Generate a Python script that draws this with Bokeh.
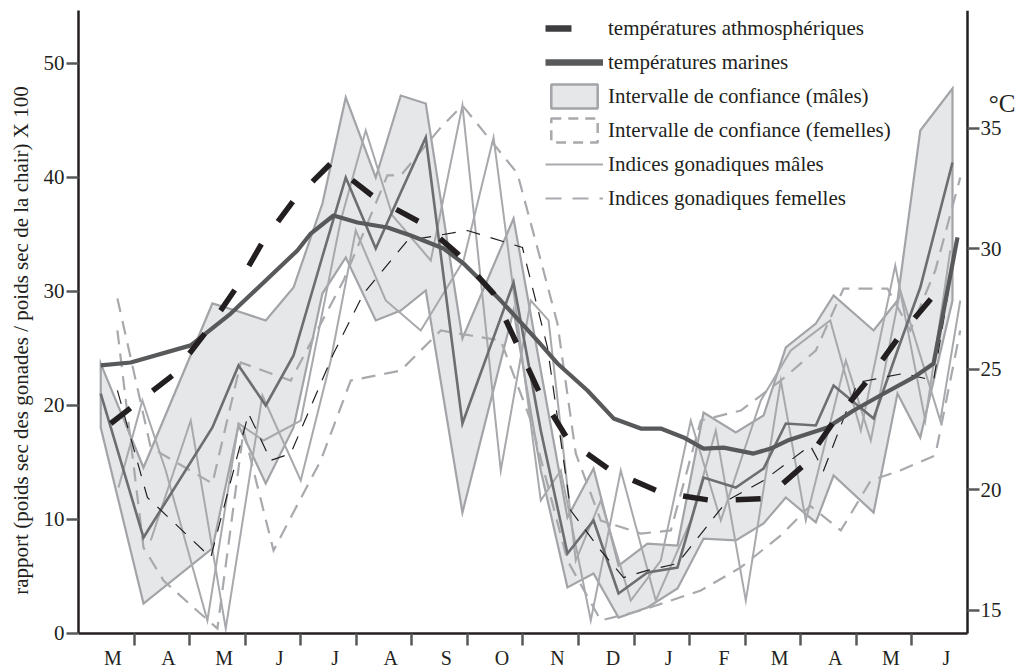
from bokeh.plotting import figure
from bokeh.models import (Range1d, LinearAxis, FixedTicker, CustomJSTickFormatter,
                          Legend, LegendItem)
from bokeh.embed import file_html
from bokeh.resources import INLINE

# ---------------- data ----------------
months = ["M", "A", "M", "J", "J", "A", "S", "O", "N", "D", "J", "F", "M", "A", "M", "J"]

# males : confidence interval and mean (rapport x 100), x in months from start
male_x = [0.40, 1.17, 2.41, 2.88, 3.37, 3.87, 4.39, 4.81, 5.35, 5.80, 6.25, 6.91, 7.83, 8.32,
          8.80, 9.27, 9.72, 10.24, 10.78, 11.25, 11.83, 12.33, 12.73, 13.27, 13.59, 14.31,
          14.74, 15.15, 15.73]
male_upper = [23.68, 14.56, 28.95, 28.25, 27.46, 30.35, 37.72, 47.02, 40.0, 47.19, 46.49, 25.88,
              36.40, 23.07, 10.18, 14.47, 5.96, 7.89, 7.72, 19.39, 17.63, 19.12, 25.09, 27.19,
              29.65, 26.58, 29.21, 44.12, 47.81]
male_mean = [21.05, 8.42, 18.07, 23.51, 20.0, 24.39, 33.07, 40.0, 33.77, 38.68, 43.51, 18.42,
             30.79, 17.81, 7.02, 9.91, 3.51, 5.35, 5.79, 13.68, 12.81, 14.47, 18.42, 18.25,
             21.75, 18.86, 24.82, 30.35, 41.32]
male_lower = [18.07, 2.63, 7.46, 18.25, 13.16, 18.07, 29.82, 32.98, 27.46, 28.33, 30.09, 10.61,
              28.33, 14.30, 4.04, 5.26, 1.40, 2.28, 3.95, 8.33, 8.16, 9.65, 11.93, 9.74,
              13.86, 10.61, 21.05, 17.19, 29.21]

# females : dashed interval limits and thin mean line
fem_up_x = [0.70, 1.30, 2.41, 2.92, 3.82, 4.77, 5.56, 5.80, 6.52, 6.91, 7.90, 8.32, 8.62, 8.95,
            9.40, 10.12, 10.66, 11.20, 11.92, 12.64, 13.27, 13.77, 14.56, 14.97, 15.42, 15.87]
fem_up_y = [29.39, 16.32, 13.16, 23.77, 22.19, 30.96, 40.18, 40.18, 44.39, 46.32, 40.35, 32.72,
            27.19, 15.79, 9.91, 8.77, 9.04, 18.68, 19.56, 22.19, 24.82, 30.26, 30.26, 26.58,
            31.84, 40.0]
fem_lo_x = [0.70, 1.17, 1.53, 2.07, 2.50, 2.97, 3.51, 3.82, 4.36, 4.90, 5.80, 6.52, 7.06, 7.60,
            8.14, 8.80, 9.40, 10.12, 10.66, 11.20, 11.92, 12.64, 13.17, 13.72, 14.26, 14.79,
            15.42, 15.87]
fem_lo_y = [26.58, 7.54, 4.65, 2.28, 0.44, 17.81, 7.28, 10.18, 15.18, 22.19, 23.07, 26.58, 26.14,
            25.70, 18.68, 6.40, 1.14, 2.02, 2.89, 3.77, 5.80, 8.60, 11.20, 9.04, 13.42, 14.30,
            15.61, 26.58]
fem_mean_x = [0.70, 1.24, 2.38, 3.06, 3.46, 3.82, 4.59, 5.13, 5.92, 7.00, 7.99, 8.44, 8.86, 9.40,
              9.81, 10.24, 10.78, 11.68, 12.33, 13.17, 13.41, 14.02, 14.85, 15.39, 15.82]
fem_mean_y = [21.32, 11.93, 6.67, 19.30, 15.18, 15.79, 24.56, 29.82, 34.47, 35.35, 33.86, 25.09,
              10.79, 7.28, 4.91, 5.53, 6.14, 11.67, 13.42, 16.49, 14.30, 22.02, 22.81, 22.19, 34.91]

# individual male gonadic indices (thin light lines)
ind_a_x = [0.72, 1.15, 1.57, 2.32, 2.88, 3.33, 4.00, 4.72, 5.17, 5.65, 6.34, 6.91, 7.60, 8.14,
           8.46, 8.95, 9.40, 9.94, 10.48, 11.02, 11.56, 12.28, 12.82, 13.53, 14.08, 14.70,
           15.24, 15.69]
ind_a_y = [12.81, 20.44, 14.30, 1.14, 18.42, 16.93, 18.68, 36.23, 44.12, 36.67, 32.72, 46.32,
           14.30, 29.21, 27.46, 6.40, 11.67, 2.89, 6.40, 18.68, 9.91, 20.44, 24.82, 27.46,
           17.81, 32.28, 18.68, 33.60]
ind_b_x = [1.30, 2.02, 2.65, 3.31, 4.00, 4.54, 4.99, 5.53, 6.16, 6.93, 7.47, 8.32, 8.68, 9.22,
           9.76, 10.39, 11.02, 11.47, 12.01, 12.64, 13.09, 13.81, 14.26, 14.79, 15.51, 15.87]
ind_b_y = [8.16, 18.68, 0.44, 20.88, 13.42, 23.95, 35.35, 29.21, 26.58, 32.72, 43.51, 11.67,
           14.30, 1.14, 14.30, 2.89, 9.91, 17.81, 2.89, 22.19, 9.91, 23.95, 16.93, 30.09,
           18.68, 29.21]

# temperatures (deg C, right axis)
atmo_x = [0.58, 1.69, 2.29, 2.83, 3.31, 3.87, 4.54, 5.35, 6.19, 6.82, 7.47, 7.92, 8.32, 8.82,
          9.58, 10.48, 11.41, 12.37, 13.05, 13.57, 14.20, 14.76, 15.42]
atmo_t = [22.76, 24.75, 26.54, 28.36, 30.27, 32.01, 33.55, 32.10, 31.06, 29.81, 28.15, 25.91,
          23.92, 22.05, 20.81, 19.90, 19.56, 19.65, 21.02, 22.76, 24.54, 26.33, 28.15]
marine_x = [0.40, 0.94, 2.02, 2.74, 3.94, 4.18, 4.59, 5.02, 5.56, 5.98, 6.57, 6.93, 7.60, 8.26,
            8.62, 9.16, 9.63, 10.12, 10.48, 10.89, 11.25, 11.61, 12.15, 12.46, 12.76, 13.48,
            13.95, 14.43, 15.03, 15.39, 15.82]
marine_t = [25.17, 25.29, 26.00, 27.32, 29.94, 30.64, 31.39, 31.10, 30.89, 30.56, 30.02, 29.40,
            27.86, 26.20, 25.25, 24.13, 22.97, 22.55, 22.55, 22.18, 21.72, 21.76, 21.51, 21.72,
            22.05, 22.59, 23.30, 23.92, 24.67, 25.25, 30.48]

left_ticks = [0, 10, 20, 30, 40, 50]
right_ticks = [15, 20, 25, 30, 35]

# ---------------- figure ----------------
FONT = "Liberation Serif"
INK = "#231f20"
TICK = "#58595b"

N = len(months)
X_END = 16.882          # frame runs to the canvas edge; the right axis sits at x = N
Y_MIN, Y_MAX = -3.246, 54.649
T_MIN, T_MAX = 12.510, 39.896

p = figure(width=1016, height=670, x_range=Range1d(0, X_END), y_range=Range1d(Y_MIN, Y_MAX),
           output_backend="svg", toolbar_location=None,
           min_border_left=78, min_border_right=0, min_border_top=10, min_border_bottom=0)
p.extra_y_ranges = {"temp": Range1d(T_MIN, T_MAX)}
p.xgrid.visible = False
p.ygrid.visible = False
p.outline_line_color = None
p.background_fill_color = "white"
p.border_fill_color = "white"

# x axis pinned at y = 0: boundary ticks (minor) and month names (major, no mark)
xa = p.xaxis[0]
xa.fixed_location = 0
xa.bounds = (0, N)
xa.ticker = FixedTicker(ticks=[i + 0.62 for i in range(N)], minor_ticks=list(range(1, N)))
xa.formatter = CustomJSTickFormatter(args=dict(labels=months), code="return labels[index]")
xa.major_tick_in = 0
xa.major_tick_out = 0
xa.major_tick_line_color = None
xa.minor_tick_in = 0
xa.minor_tick_out = 12
xa.minor_tick_line_width = 2.5
xa.minor_tick_line_color = TICK
xa.axis_line_width = 2.5
xa.axis_line_color = INK
xa.major_label_text_font = FONT
xa.major_label_text_font_size = "20px"
xa.major_label_text_color = INK
xa.major_label_standoff = 2

ya = p.yaxis[0]
ya.bounds = (0, Y_MAX)
ya.ticker = FixedTicker(ticks=left_ticks)
ya.major_tick_in = 0
ya.major_tick_out = 12
ya.major_tick_line_width = 2.5
ya.major_tick_line_color = TICK
ya.minor_tick_line_color = None
ya.axis_line_width = 2.5
ya.axis_line_color = INK
ya.major_label_text_font = FONT
ya.major_label_text_font_size = "21px"
ya.major_label_text_color = INK
ya.major_label_standoff = 2
ya.axis_label = "rapport (poids sec des gonades / poids sec de la chair) X 100"
ya.axis_label_text_font = FONT
ya.axis_label_text_font_size = "21px"
ya.axis_label_text_font_style = "normal"
ya.axis_label_text_color = INK
ya.axis_label_standoff = 8

ra = LinearAxis(y_range_name="temp", ticker=FixedTicker(ticks=right_ticks))
ra.fixed_location = N
ra.bounds = (14.046, T_MAX)
ra.major_tick_in = 0
ra.major_tick_out = 12
ra.major_tick_line_width = 2.5
ra.major_tick_line_color = TICK
ra.minor_tick_line_color = None
ra.axis_line_width = 2.5
ra.axis_line_color = INK
ra.major_label_text_font = FONT
ra.major_label_text_font_size = "21px"
ra.major_label_text_color = INK
ra.major_label_standoff = 1
p.add_layout(ra, "right")

# ---------------- data layers ----------------
band_x = male_x + male_x[::-1]
band_y = male_upper + male_lower[::-1]
p.patch(band_x, band_y, fill_color="#e6e7e8", line_color="#a2a4a7", line_width=2.2,
        line_join="miter")

p.line(ind_a_x, ind_a_y, line_color="#a7a9ac", line_width=2, line_join="miter")
p.line(ind_b_x, ind_b_y, line_color="#a7a9ac", line_width=2, line_join="miter")
p.line(fem_up_x, fem_up_y, line_color="#a7a9ac", line_width=2.2, line_dash="14 9",
       line_join="miter")
p.line(fem_lo_x, fem_lo_y, line_color="#a7a9ac", line_width=2.2, line_dash="14 9",
       line_join="miter")

p.line(male_x, male_mean, line_color="#6d6e71", line_width=2.6, line_join="miter")
p.line(fem_mean_x, fem_mean_y, line_color=INK, line_width=1.2, line_dash="14 11",
       line_join="miter")

p.line(marine_x, marine_t, y_range_name="temp", line_color="#58595b", line_width=4.2)
p.line(atmo_x, atmo_t, y_range_name="temp", line_color=INK, line_width=5.5,
       line_dash="25 28")

# unit of the right axis
p.text(x=[16.864], y=[36.04], text=["°C"], y_range_name="temp", text_align="right",
       text_baseline="alphabetic", text_font={"value": FONT}, text_font_size="25px",
       text_color=INK)

# ---------------- legend (swatch renderers lying outside the view) ----------------
OFF = [-50.0]
r1 = p.line(OFF, OFF, line_color="#3d3d3f", line_width=6.5, line_dash="26 200")
r2 = p.line(OFF, OFF, line_color="#58595b", line_width=6.5)
r3 = p.patch(OFF, OFF, fill_color="#e6e7e8", line_color="#a2a4a7", line_width=2.5)
r4 = p.patch(OFF, OFF, fill_alpha=0, line_color="#a7a9ac", line_width=2.5, line_dash="10 7")
r5 = p.line(OFF, OFF, line_color="#a7a9ac", line_width=2.2)
r6 = p.line(OFF, OFF, line_color="#a7a9ac", line_width=2.2, line_dash="16 11")

legend = Legend(items=[
    LegendItem(label="températures athmosphériques", renderers=[r1]),
    LegendItem(label="températures marines", renderers=[r2]),
    LegendItem(label="Intervalle de confiance (mâles)", renderers=[r3]),
    LegendItem(label="Intervalle de confiance (femelles)", renderers=[r4]),
    LegendItem(label="Indices gonadiques mâles", renderers=[r5]),
    LegendItem(label="Indices gonadiques femelles", renderers=[r6]),
], location=(467, 457), orientation="vertical", glyph_width=58, glyph_height=30,
    label_height=30, spacing=4, label_standoff=5, padding=0, margin=0,
    border_line_color=None, background_fill_alpha=0,
    label_text_font=FONT, label_text_font_size="21px", label_text_color=INK)
p.add_layout(legend)

open("out.html", "w").write(file_html(p, INLINE))
